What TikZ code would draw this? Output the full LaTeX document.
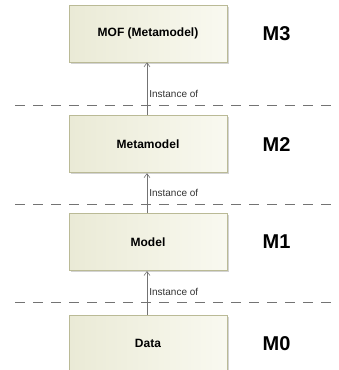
\documentclass[tikz,border=0pt]{standalone}
\usepackage{fontspec}
\setmainfont{Liberation Sans}
\usepackage{xcolor}
\usetikzlibrary{arrows.meta,positioning,shadows}
\definecolor{boxleft}{RGB}{234,234,214}
\definecolor{boxright}{RGB}{249,249,240}
\definecolor{boxline}{RGB}{186,186,150}
\tikzstyle{level} = [rectangle, draw=boxline, line width=0.8pt, minimum width=158pt, minimum height=57pt, align=center, left color=boxleft, right color=boxright, font=\bfseries\fontsize{12pt}{14pt}\selectfont, drop shadow={shadow xshift=1.5pt, shadow yshift=-1.5pt, opacity=0.35, fill=gray}]
\tikzstyle{tag} = [font=\bfseries\fontsize{20pt}{24pt}\selectfont, inner sep=0pt]
\tikzstyle{inst} = [-{Straight Barb[length=4pt,width=6pt]}, draw=black!55, line width=0.6pt]
\tikzstyle{instlabel} = [right, inner sep=2pt, font=\fontsize{10pt}{12pt}\selectfont, text=black!80]
\tikzstyle{sep} = [draw=black!55, line width=0.8pt, dash pattern=on 10pt off 8pt]

\begin{document}
\begin{tikzpicture}[node distance=53pt]
\useasboundingbox (0pt,0pt) rectangle (338pt,-370pt);
% separators between the levels
\draw[sep] (15pt,-105pt) -- (338pt,-105pt);
\draw[sep] (15pt,-204pt) -- (338pt,-204pt);
\draw[sep] (15pt,-302pt) -- (338pt,-302pt);

\node[level] (mof) at (148pt,-33.5pt) {MOF (Metamodel)};
\node[level, below=53pt of mof] (meta) {Metamodel};
\node[level, below=40pt of meta] (model) {Model};
\node[level, below=44pt of model] (data) {Data};

\node[tag, right=35pt of mof] (m3) {M3};
\node[tag, right=35pt of meta] (m2) {M2};
\node[tag, right=35pt of model] (m1) {M1};
\node[tag, right=35pt of data] (m0) {M0};

\draw[inst] ([xshift=-1pt]meta.north) -- node[instlabel, pos=0.40] {Instance of} ([xshift=-1pt]mof.south);
\draw[inst] ([xshift=-1pt]model.north) -- node[instlabel, pos=0.50] {Instance of} ([xshift=-1pt]meta.south);
\draw[inst] ([xshift=-1pt]data.north) -- node[instlabel, pos=0.52] {Instance of} ([xshift=-1pt]model.south);
\end{tikzpicture}
\end{document}
